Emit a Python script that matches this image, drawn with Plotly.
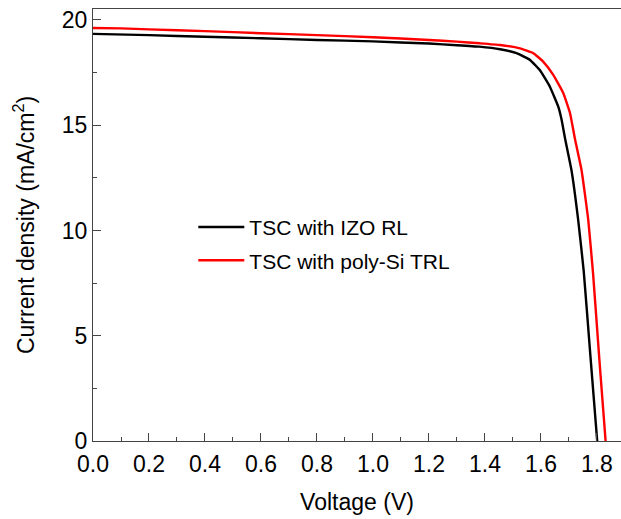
import plotly.graph_objects as go

# Data
v_izo = [0.0, 0.2, 0.4, 0.6, 0.8, 1.0, 1.2, 1.3, 1.38, 1.454, 1.513, 1.561, 1.596, 1.632,
         1.662, 1.674, 1.686, 1.709, 1.733, 1.753, 1.777, 1.801]
j_izo = [19.34, 19.28, 19.20, 19.13, 19.05, 18.98, 18.88, 18.80, 18.73, 18.61, 18.42, 18.10,
         17.62, 16.83, 15.88, 15.25, 14.38, 12.87, 10.50, 8.05, 4.0, 0.0]

v_poly = [0.0, 0.1, 0.2, 0.4, 0.6, 0.8, 1.0, 1.2, 1.3, 1.382, 1.454, 1.525, 1.573, 1.608,
          1.644, 1.680, 1.704, 1.721, 1.745, 1.769, 1.786, 1.808, 1.831]
j_poly = [19.62, 19.60, 19.55, 19.47, 19.37, 19.28, 19.18, 19.05, 18.97, 18.89, 18.81, 18.65,
          18.42, 18.02, 17.39, 16.52, 15.57, 14.38, 12.87, 10.50, 8.0, 4.0, 0.0]

names = ["TSC with IZO RL", "TSC with poly-Si TRL"]
colors = ["#000000", "#ff0000"]

x_ticks = [0.0, 0.2, 0.4, 0.6, 0.8, 1.0, 1.2, 1.4, 1.6, 1.8]
y_ticks = [0, 5, 10, 15, 20]

FONT = "Arial, Liberation Sans, sans-serif"

fig = go.Figure()
for i, (vx, jy) in enumerate([(v_izo, j_izo), (v_poly, j_poly)]):
    fig.add_trace(go.Scatter(
        x=vx, y=jy, mode="lines", name=names[i], legendgroup=f"g{i}",
        line=dict(color=colors[i], width=2.4, shape="spline", smoothing=0.35),
    ))

axis_common = dict(
    showgrid=False, zeroline=False, showline=True, linecolor="#444", linewidth=1.3,
    ticks="inside", ticklen=8, tickwidth=1.2, tickcolor="#444",
    tickfont=dict(family=FONT, size=23, color="black"), automargin=False,
)

fig.update_layout(
    width=621, height=519,
    margin=dict(l=93, r=0, t=9, b=78),
    plot_bgcolor="white", paper_bgcolor="white",
    font=dict(family=FONT, color="black"),
    xaxis=dict(
        range=[0, 1.886], tickvals=x_ticks, ticktext=[f"{t:.1f}" for t in x_ticks],
        minor=dict(dtick=0.1, tick0=0, ticks="inside", ticklen=4, tickcolor="#444"),
        mirror=True, ticklabelstandoff=2,
        title=dict(text="Voltage (V)", font=dict(family=FONT, size=23, color="black"), standoff=18),
        **axis_common,
    ),
    yaxis=dict(
        range=[0, 20.52], tickvals=y_ticks,
        minor=dict(dtick=2.5, tick0=0, ticks="inside", ticklen=4, tickcolor="#444"),
        title=dict(text="Current density (mA/cm<sup>2</sup>)", font=dict(family=FONT, size=23, color="black"), standoff=20),
        **axis_common,
    ),
    legend=dict(
        x=0.19, y=0.542, xanchor="left", yanchor="top",
        font=dict(family=FONT, size=21, color="black"),
        bgcolor="rgba(0,0,0,0)", tracegroupgap=3, traceorder="grouped",
        itemwidth=46,
    ),
)

fig.write_html("out.html", config={"displayModeBar": False},
               post_script="document.body.style.margin='0';")
